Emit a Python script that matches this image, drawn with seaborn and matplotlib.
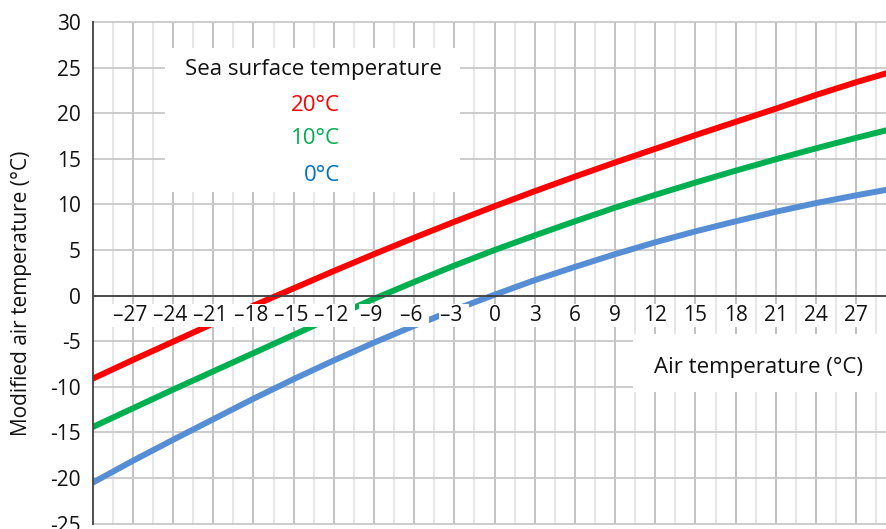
"""Modified air temperature over a warmer sea surface, as line chart."""

import matplotlib.pyplot as plt
import numpy as np
import pandas as pd
import seaborn as sns
from matplotlib.patches import Rectangle

# Values
air_temp = [-30, -27, -24, -21, -18, -15, -12, -9, -6, -3, 0,
            3, 6, 9, 12, 15, 18, 21, 24, 27, 30]
sst_20 = [-9.1, -7.05, -5.05, -3.05, -1.1, 0.8, 2.7, 4.55, 6.35, 8.1, 9.8,
          11.45, 13.05, 14.6, 16.1, 17.6, 19.05, 20.5, 22.0, 23.4, 24.7]
sst_10 = [-14.4, -12.35, -10.3, -8.3, -6.3, -4.3, -2.3, -0.35, 1.5, 3.3, 5.0,
          6.6, 8.15, 9.65, 11.05, 12.4, 13.7, 14.95, 16.15, 17.3, 18.4]
sst_0 = [-20.5, -18.1, -15.8, -13.55, -11.3, -9.15, -7.1, -5.15, -3.3, -1.55, 0.1,
         1.7, 3.15, 4.55, 5.85, 7.05, 8.15, 9.2, 10.15, 11.0, 11.8]

series_labels = ["20°C", "10°C", "0°C"]
line_colors = {"20°C": "#FF0000", "10°C": "#00B050", "0°C": "#558ED5"}
text_colors = {"20°C": "#FF0000", "10°C": "#00B050", "0°C": "#0070C0"}

x_ticks = list(range(-27, 28, 3))
y_ticks = list(range(-25, 31, 5))


def build_df():
    frames = []
    for label, values in zip(series_labels, [sst_20, sst_10, sst_0]):
        frames.append(pd.DataFrame({"Air": air_temp, "Modified": values, "SST": label}))
    return pd.concat(frames, ignore_index=True)


def x_label(v):
    # en dash for negatives, a trailing space nudges the digits onto the tick
    return f"\u2013{abs(v)} " if v < 0 else str(v)


df = build_df()

sns.set_style("white")
plt.rcParams["font.family"] = ["Open Sans", "DejaVu Sans"]

fig = plt.figure(figsize=(8.87, 5.29), dpi=100)
ax = fig.add_axes([0.1045, 0.010, 0.8955, 0.9484])

# Grid drawn by hand so the tick labels can sit above the curves
for v in np.arange(-28.5, 30, 3):
    ax.axvline(v, color="#E2E2E2", lw=1.2, zorder=0.5)
for v in x_ticks:
    ax.axvline(v, color="#BDBDBD", lw=1.3, zorder=0.6)
for v in y_ticks:
    ax.axhline(v, color="#C8C8C8", lw=1.3, zorder=0.6, clip_on=False)

sns.lineplot(data=df, x="Air", y="Modified", hue="SST", hue_order=series_labels,
             palette=line_colors, lw=4.3, legend=False, ax=ax, zorder=2)

ax.set_xlim(-30, 29.3)
ax.set_ylim(-25, 30)
ax.set_axisbelow(False)

for side in ["top", "right"]:
    ax.spines[side].set_visible(False)
ax.spines["bottom"].set_position(("data", 0))
ax.spines["bottom"].set_color("#404040")
ax.spines["bottom"].set_linewidth(1.3)
ax.spines["left"].set_color("#404040")
ax.spines["left"].set_linewidth(1.3)

ax.set_xticks(x_ticks, [x_label(v) for v in x_ticks])
ax.tick_params(axis="x", length=0, pad=7, labelsize=15, labelcolor="#111111")
for lbl in ax.get_xticklabels():
    lbl.set_bbox(dict(facecolor="white", edgecolor="none", pad=0.8))

ax.set_yticks(y_ticks, [str(v) for v in y_ticks])
ax.tick_params(axis="y", length=3.6, width=1.2, color="#BDBDBD", pad=5,
               labelsize=15, labelcolor="#111111")

ax.set_xlabel("")
ax.set_ylabel("Modified air temperature (°C)", fontsize=15, color="#111111")
ax.yaxis.set_label_coords(-0.077, 0.459)

# Legend block
ax.add_patch(Rectangle((-24.6, 11.4), 22.0, 15.8, facecolor="white",
                       edgecolor="none", zorder=2.7))
ax.text(-13.55, 24.75, "Sea surface temperature", ha="center", va="center",
        fontsize=16, color="#111111", zorder=3)
for label, y in zip(series_labels, [20.9, 17.2, 13.2]):
    ax.text(-11.55, y, label, ha="right", va="center", fontsize=16,
            color=text_colors[label], zorder=3)

# X axis title box
ax.add_patch(Rectangle((10.32, -10.56), 19.5, 6.36, facecolor="white",
                       edgecolor="none", zorder=2.7))
ax.text(19.7, -7.9, "Air temperature (°C)", ha="center", va="center",
        fontsize=16, color="#111111", zorder=3)

plt.savefig("out.png", dpi=100)
